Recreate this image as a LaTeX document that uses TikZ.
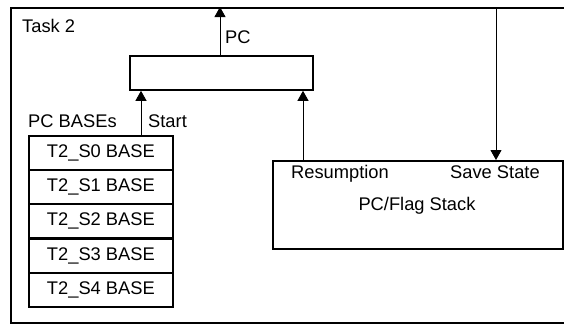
\documentclass[tikz,border=0pt]{standalone}
\usepackage{fontspec}
\setmainfont{Liberation Sans}
\usetikzlibrary{arrows.meta,calc}
\begin{document}
\begin{tikzpicture}[x=1pt,y=-1pt,
  every node/.style={font=\fontsize{18.3}{21}\selectfont, inner sep=0pt},
  framebox/.style={draw, line width=2pt, rectangle},
  regbox/.style={draw, line width=1.8pt, rectangle},
  arr/.style={line width=0.9pt, -{Triangle[length=10pt,width=11pt]}},
  lbl/.style={anchor=base west}]
\useasboundingbox (0,0) rectangle (564,325);
\clip (0,0) rectangle (564,325);

% enclosing task frame (open to the right)
\node[framebox, minimum width=575pt, minimum height=315pt, anchor=north west] (frame) at (10,7) {};
\node[lbl] (task) at (22,32) {Task 2};

% program counter register
\node[regbox, minimum width=183pt, minimum height=34pt, anchor=north west] (pcreg) at (129,55) {};

% table of state base addresses
\foreach \i/\y in {0/135,1/169,2/203,3/238,4/272}{
  \node[regbox, minimum width=144pt, minimum height=34pt, anchor=north west] (base\i) at (28,\y) {};
  \node (btext\i) at ($(base\i.center)+(0,0.5)$) {T2\_S\i{} BASE};
}
\node[lbl] (baseslbl) at (28,127) {PC BASEs};

% PC/flag stack
\node[regbox, minimum width=290pt, minimum height=88pt, anchor=north west] (stack) at (272,160) {};
\node[lbl] (resumelbl) at (291,178) {Resumption};
\node[lbl] (savelbl) at (450,178) {Save State};
\node[anchor=base] (stacklbl) at (417,210) {PC/Flag Stack};

% connectors
\coordinate (pcx) at (220,0);
\coordinate (startx) at (141,0);
\coordinate (resx) at (303,0);
\coordinate (savex) at (496,0);
\draw[arr] (pcreg.north -| pcx) -- (frame.north -| pcx);
\node[lbl] (pclbl) at (225,43) {PC};
\draw[arr] (base0.north -| startx) -- (pcreg.south -| startx);
\node[lbl] (startlbl) at (148,127) {Start};
\draw[arr] (stack.north -| resx) -- (pcreg.south -| resx);
\draw[arr] (frame.north -| savex) -- (stack.north -| savex);
\end{tikzpicture}
\end{document}
